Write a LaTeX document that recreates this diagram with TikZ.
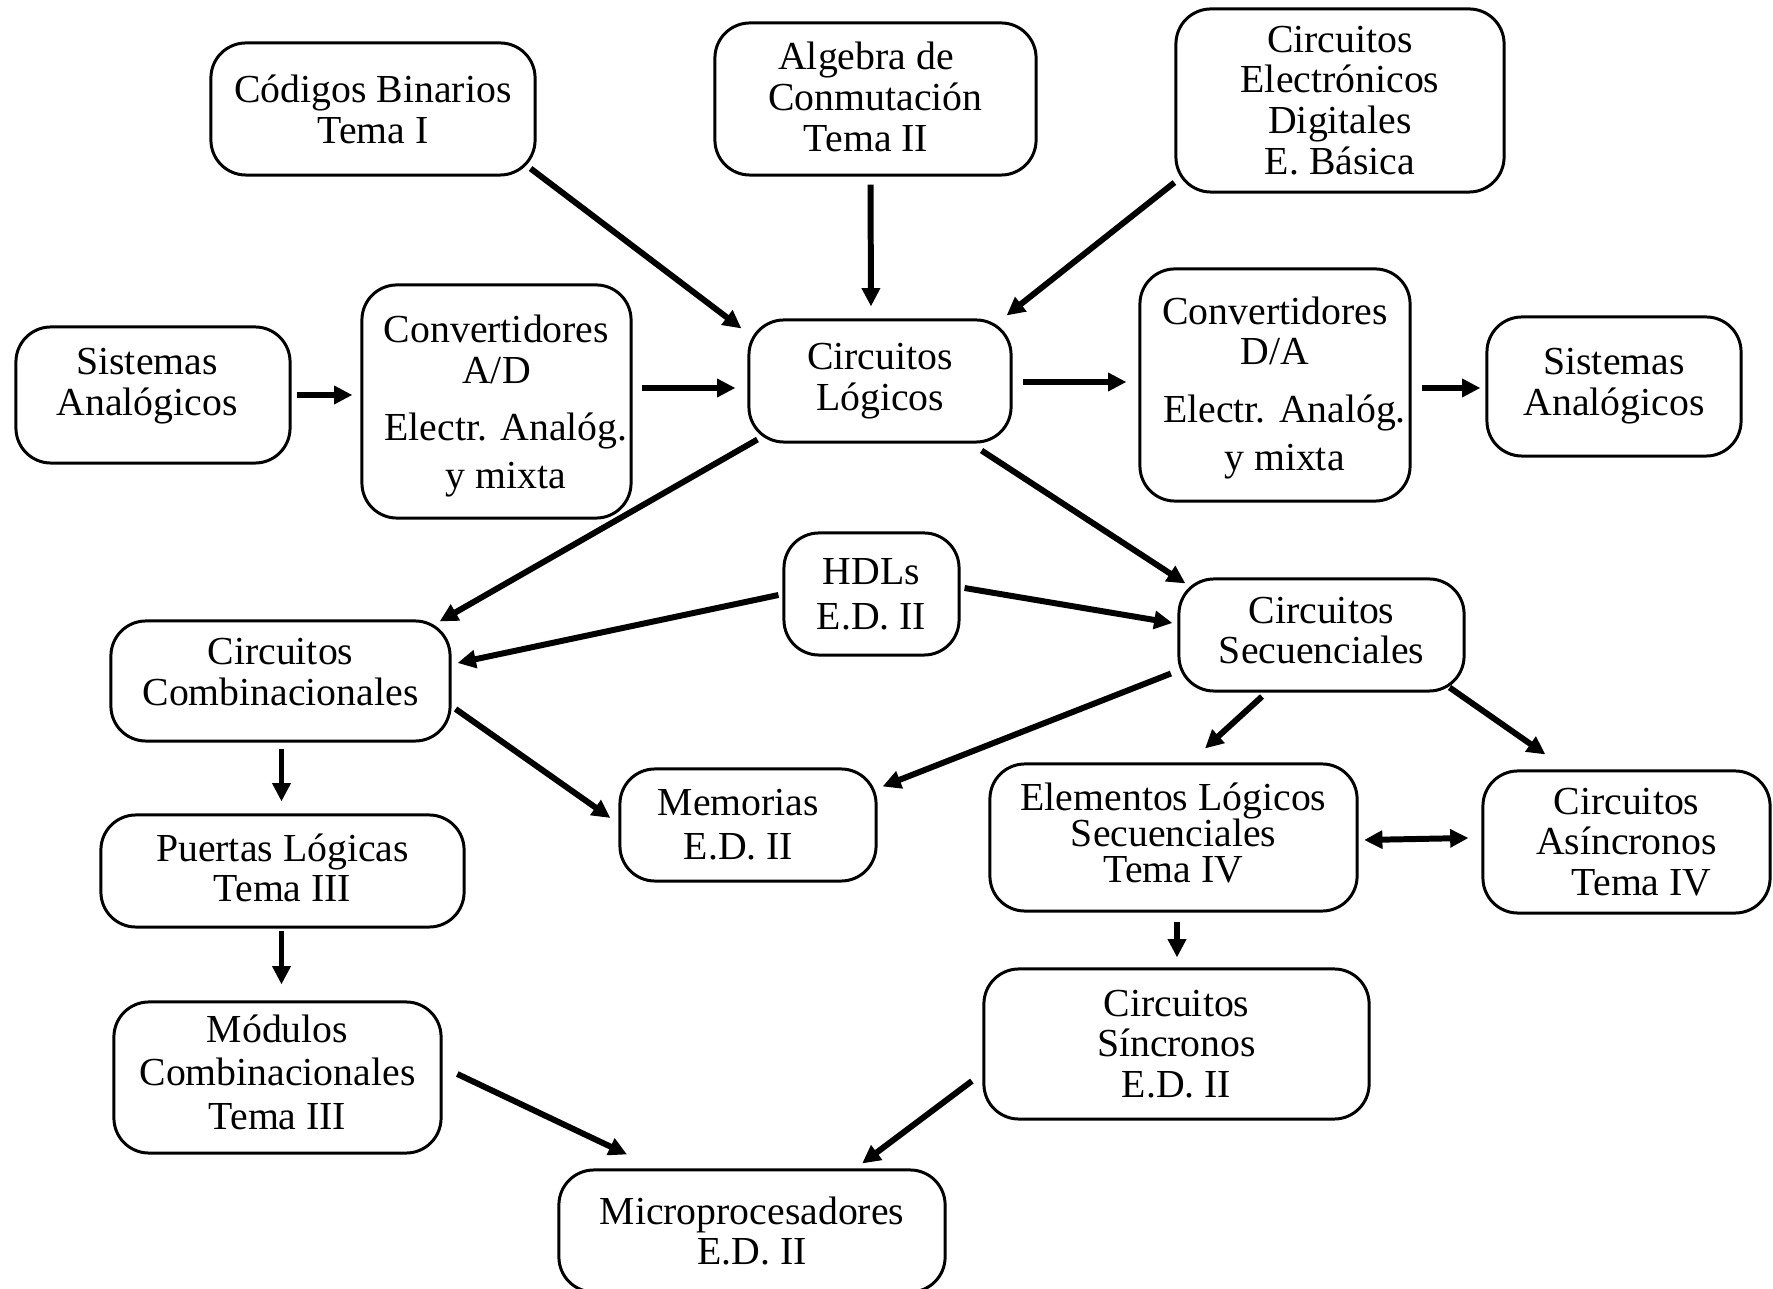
\documentclass[tikz,border=0pt]{standalone}
\usepackage{fontspec}
\setmainfont{Liberation Serif}
\usetikzlibrary{arrows.meta}

\begin{document}
\begin{tikzpicture}[x=0.01cm,y=-0.01cm,
		caja/.style={draw,line width=0.85pt,rounded corners=0.35cm,align=center,inner sep=0pt,
			font=\fontsize{11.3}{11.6}\selectfont},
		flecha/.style={line width=1.7pt,-{Triangle[length=5.2pt,width=5pt]}}]
		\useasboundingbox (0,0) rectangle (1773,1289);
		% fila de arriba
		\node[caja,minimum width=3.24cm,minimum height=1.32cm] (cod) at (373,109) {Códigos Binarios\\Tema I};
		\node[caja,minimum width=3.21cm,minimum height=1.52cm] (alg) at (875.5,99) {Algebra de\hspace*{5.4pt}\\Conmutación\hspace*{5.4pt}\\Tema II\hspace*{5.4pt}\rule[-1.3pt]{0pt}{1.3pt}};
		\node[caja,minimum width=3.28cm,minimum height=1.83cm] (ced) at (1340,100.5) {Circuitos\\Electrónicos\\Digitales\\E. Básica};
		% fila central
		\node[caja,minimum width=2.74cm,minimum height=1.36cm] (sal) at (153,395) {Sistemas\hspace*{3.4pt}\\Analógicos\hspace*{3.4pt}\rule[-7.4pt]{0pt}{7.4pt}};
		\node[caja,minimum width=2.69cm,minimum height=2.33cm] (cad) at (496.5,401.5) {\rule{0pt}{10.3pt}Convertidores\\A/D\\[4.8pt]\hspace*{5.4pt}Electr. Analóg.\\[1.9pt]\hspace*{5.4pt}y mixta};
		\node[caja,minimum width=2.62cm,minimum height=1.22cm] (log) at (880,381) {Circuitos\\Lógicos};
		\node[caja,minimum width=2.70cm,minimum height=2.32cm] (cda) at (1275,385) {\rule{0pt}{9.3pt}Convertidores\\D/A\hspace*{2pt}\\[4.8pt]\hspace*{5.4pt}Electr. Analóg.\\[1.9pt]\hspace*{5.4pt}y mixta};
		\node[caja,minimum width=2.54cm,minimum height=1.39cm] (sar) at (1614,386.5) {Sistemas\\Analógicos};
		% combinacionales y secuenciales
		\node[caja,minimum width=1.75cm,minimum height=1.22cm] (hdl) at (871.5,594) {HDLs\\[1.2pt]E.D. II};
		\node[caja,minimum width=3.39cm,minimum height=1.20cm] (cmb) at (280.5,681) {Circuitos\\Combinacionales\rule[-5.1pt]{0pt}{5.1pt}};
		\node[caja,minimum width=2.85cm,minimum height=1.12cm] (sec) at (1321.5,635) {Circuitos\\Secuenciales\rule[-2.6pt]{0pt}{2.6pt}};
		\node[caja,minimum width=2.56cm,minimum height=1.12cm] (mem) at (748,825) {Memorias\hspace*{5.4pt}\\[0.9pt]E.D. II\hspace*{5.4pt}};
		\node[caja,minimum width=3.67cm,minimum height=1.47cm] (ele) at (1173.5,837.5) {Elementos Lógicos\\[-1.3pt]Secuenciales\\[-1.3pt]Tema IV\rule[-2.6pt]{0pt}{2.6pt}};
		\node[caja,minimum width=2.87cm,minimum height=1.42cm] (asi) at (1626.5,842) {Circuitos\\Asíncronos\\\hspace*{8.6pt}Tema IV};
		\node[caja,minimum width=3.63cm,minimum height=1.12cm] (pue) at (282.5,871) {Puertas Lógicas\\Tema III\rule[-1.9pt]{0pt}{1.9pt}};
		\node[caja,minimum width=3.27cm,minimum height=1.51cm] (mod) at (277.5,1077.5) {Módulos\\[0.8pt]Combinacionales\\[0.8pt]Tema III\rule[-3.2pt]{0pt}{3.2pt}};
		\node[caja,minimum width=3.85cm,minimum height=1.50cm] (sin) at (1176.5,1044) {Circuitos\\Síncronos\\E.D. II};
		\node[caja,minimum width=3.86cm,minimum height=1.22cm] (mic) at (752,1231) {Microprocesadores\\E.D. II};
		% flechas
		\draw[flecha] ([shift={(-6,-8)}]cod.south east) -- ([shift={(-6,10)}]log.north west);
		\draw[flecha] ([shift={(-5,8)}]alg.south) -- ([shift={(-9,-12)}]log.north);
		\draw[flecha] ([shift={(0,-11)}]ced.south west) -- ([shift={(-6,-3)}]log.north east);
		\draw[flecha] ([shift={(5,0)}]sal.east) -- ([shift={(-8,-6.5)}]cad.west);
		\draw[flecha] ([shift={(9,-13.5)}]cad.east) -- ([shift={(-12,7)}]log.west);
		\draw[flecha] ([shift={(10,1)}]log.east) -- ([shift={(-12,-3)}]cda.west);
		\draw[flecha] ([shift={(10,3)}]cda.east) -- ([shift={(-5,1.5)}]sar.west);
		\draw[flecha] ([shift={(10,-4)}]log.south west) -- ([shift={(-12,2)}]cmb.north east);
		\draw[flecha] ([shift={(-31,7)}]log.south east) -- ([shift={(8,6)}]sec.north west);
		\draw[flecha] ([shift={(-4,1)}]hdl.west) -- ([shift={(6,-18)}]cmb.east);
		\draw[flecha] ([shift={(4,-6)}]hdl.east) -- ([shift={(-5,-12)}]sec.west);
		\draw[flecha] ([shift={(4,28)}]cmb.east) -- ([shift={(-8,-7)}]mem.west);
		\draw[flecha] ([shift={(1,6)}]cmb.south) -- ([shift={(-1,-12)}]pue.north);
		\draw[flecha] ([shift={(-1,2)}]pue.south) -- ([shift={(-1,-16)}]pue.south |- mod.north);
		\draw[flecha] ([shift={(-6.5,-19)}]sec.south west) -- ([shift={(5,19)}]mem.north east);
		\draw[flecha] ([shift={(-59.5,4)}]sec.south) -- ([shift={(31.5,-14)}]ele.north);
		\draw[flecha] ([shift={(-16,-5)}]sec.south east) -- ([shift={(64,-15)}]asi.north west);
		\draw[flecha,{Triangle[length=5.2pt,width=5pt]}-{Triangle[length=5.2pt,width=5pt]}] ([shift={(5.5,2.5)}]ele.east) -- ([shift={(-13,-4)}]asi.west);
		\draw[flecha] ([shift={(3.5,9)}]ele.south) -- ([shift={(0.5,-10)}]sin.north);
		\draw[flecha] ([shift={(14.7,-3.5)}]mod.east) -- ([shift={(69.7,-14)}]mic.north west);
		\draw[flecha] ([shift={(-10.5,37)}]sin.west) -- ([shift={(-84.5,-5)}]mic.north east);
	\end{tikzpicture}
\end{document}
